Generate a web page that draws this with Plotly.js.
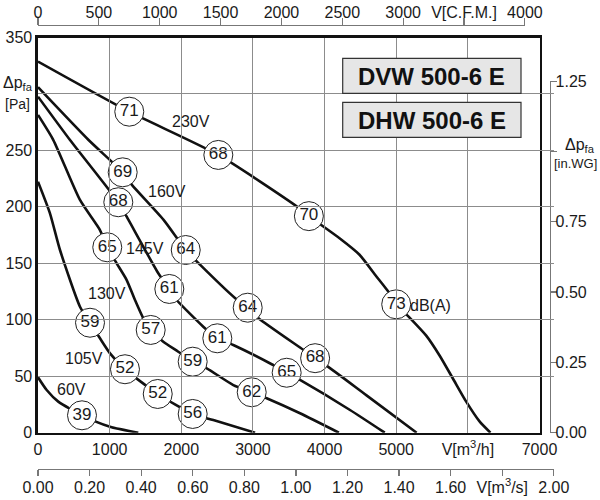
<!DOCTYPE html>
<html><head><meta charset="utf-8">
<script src="https://cdn.plot.ly/plotly-3.0.1.min.js"></script>
<style>html,body{margin:0;padding:0;background:#fff}#chart{width:600px;height:500px}</style>
</head><body><div id="chart"></div>
<script>
// ---------- data ----------
const q230 = [0, 1274, 2517, 3614, 3781, 4209, 4488, 4721, 4884, 5000, 5186, 5419, 5605, 5791, 5977, 6163, 6315];
const p230 = [328.7, 284.3, 246.0, 200.3, 191.8, 172.2, 157.6, 138.6, 125.4, 113.7, 102.0, 86.0, 68.4, 48.0, 27.5, 10.0, 0];

const q160 = [0, 706, 1182, 1311, 1753, 2062, 2265, 2753, 2927, 3078, 3706, 3868, 4023, 4581, 5285];
const p160 = [306.0, 259.2, 230.6, 219.5, 188.5, 161.8, 148.6, 119.1, 110.7, 101.4, 73.3, 66.0, 59.6, 33.3, 0];

const q145 = [0, 447, 1121, 1238, 1679, 1833, 1936, 2307, 2503, 2726, 3262, 3471, 3657, 4355, 4840];
const p145 = [297.6, 259.2, 204.1, 191.3, 141.2, 127.3, 117.5, 93.9, 83.6, 77.7, 60.6, 53.1, 46.7, 20.1, 0];

const q130 = [0, 214, 586, 865, 967, 1098, 1238, 1354, 1470, 1573, 1749, 1958, 2159, 2355, 2726, 2983, 3192, 3657, 4200];
const p130 = [281.4, 259.2, 206.1, 179.5, 164.2, 150.0, 135.2, 117.5, 101.3, 91.0, 80.6, 71.7, 62.9, 57.0, 42.2, 35.8, 30.5, 17.2, 0];

const q105 = [0, 167, 307, 586, 726, 865, 1005, 1214, 1671, 2159, 2447, 3030];
const p105 = [222.3, 194.3, 161.8, 111.6, 97.4, 83.6, 70.3, 56.2, 34.3, 16.6, 11.2, 0];

const q60 = [0, 121, 283, 614, 1005, 1400];
const p60 = [49.1, 37.8, 27.5, 15.4, 5.3, 0];

// sound level markers dB(A)
const dbQ   = [1274, 2517, 3781, 5000, 1182, 2062, 2927, 3868, 1121, 1833, 2503, 3471, 967, 1573, 2159, 2983, 726, 1214, 1671, 2159, 614];
const dbP   = [284.3, 246.0, 191.8, 113.7, 230.6, 161.8, 110.7, 66.0, 204.1, 127.3, 83.6, 53.1, 164.2, 91.0, 62.9, 35.8, 97.4, 56.2, 34.3, 16.6, 15.4];
const dbVal = ['71','68','70','73','69','64','64','68','68','61','61','65','65','57','59','62','59','52','52','56','39'];

// curve labels
const labelText = ['230V','160V','145V','130V','105V','60V'];
const labelQ    = [2131, 1796, 1494, 967, 642, 461];
const labelP    = [275.4, 213.4, 163.3, 123.5, 65.3, 38.4];
const unitText = 'dB(A)';
const unitQ = 5160, unitP = 112.3;

// ticks
const mhVals  = [0,1000,2000,3000,4000,5000,6000,7000];
const mhText  = ['0','1000','2000','3000','4000','5000','V[m<sup>3</sup>/h]','7000'];
const cfmVals = [0,500,1000,1500,2000,2500,3000,3500,4000];
const cfmText = ['0','500','1000','1500','2000','2500','3000','V[C.F.M.]','4000'];
const msVals  = [0,0.2,0.4,0.6,0.8,1.0,1.2,1.4,1.6,1.8,2.0];
const msText  = ['0.00','0.20','0.40','0.60','0.80','1.00','1.20','1.40','1.60','V[m<sup>3</sup>/s]','2.00'];
const paVals  = [0,50,100,150,200,250,300,350];
const paText  = ['0','50','100','150','200','250','','350'];
const wgVals  = [0,0.25,0.5,0.75,1.0,1.25];
const wgText  = ['0.00','0.25','0.50','0.75','','1.25'];
const models  = ['DVW 500-6 E','DHW 500-6 E'];

// ---------- geometry ----------
const FONT = 'Liberation Sans, Arial, sans-serif';
const ML = 38, MR = 45, MT = 25, MB = 31;
const PW = 600 - ML - MR, PH = 500 - MT - MB;
const fx = px => (px - ML) / PW;
const fy = py => (500 - MB - py) / PH;
const X0 = 38, X1 = 539.5, Y0 = 432.7, Y1 = 37.5;
const xs = (X1 - X0) / 7000, ys = (Y0 - Y1) / 350;
const CFM = 1.69901, INWG = 249.089;

const lineStyle = {color:'#111', width:2.6, shape:'spline', smoothing:0.6};
const curves = [[q230,p230],[q160,p160],[q145,p145],[q130,p130],[q105,p105],[q60,p60]];
const traces = curves.map(c => ({x:c[0], y:c[1], type:'scatter', mode:'lines', line:lineStyle, hoverinfo:'skip', showlegend:false}));
traces.push({x:dbQ, y:dbP, text:dbVal, type:'scatter', mode:'markers+text', textposition:'middle center',
  textfont:{family:FONT, size:17, color:'#1a1a1a'},
  marker:{size:29, color:'#fff', line:{color:'#222', width:1}}, hoverinfo:'skip', showlegend:false, cliponaxis:false});
traces.push({x:[], y:[], xaxis:'x2', yaxis:'y', type:'scatter', mode:'markers', showlegend:false});
traces.push({x:[], y:[], xaxis:'x3', yaxis:'y', type:'scatter', mode:'markers', showlegend:false});
traces.push({x:[], y:[], xaxis:'x', yaxis:'y2', type:'scatter', mode:'markers', showlegend:false});

const tickFont = {family:FONT, size:16, color:'#1a1a1a'};
const annotations = [];
const txt = (x, y, text, size, extra) => Object.assign({x:x, y:y, xref:'paper', yref:'paper', text:text, showarrow:false,
  xanchor:'center', yanchor:'middle', font:{family:FONT, size:size, color:'#1a1a1a'}}, extra || {});
labelText.forEach((t,i) => annotations.push({x:labelQ[i], y:labelP[i], xref:'x', yref:'y', text:t, showarrow:false,
  xanchor:'center', yanchor:'middle', font:{family:FONT, size:16, color:'#1a1a1a'}}));
annotations.push({x:unitQ, y:unitP, xref:'x', yref:'y', text:unitText, showarrow:false, xanchor:'left', yanchor:'middle',
  font:{family:FONT, size:16, color:'#1a1a1a'}});
annotations.push(txt(fx(18), fy(84), 'Δp<sub>fa</sub>', 16));
annotations.push(txt(fx(17), fy(104), '[Pa]', 14));
annotations.push(txt(fx(580), fy(145), 'Δp<sub>fa</sub>', 16));
annotations.push(txt(fx(575), fy(163), '[in.WG]', 13));
const boxY = [[58.3,93.3],[102.3,137.3]];
const shapes = [];
models.forEach((m,i) => {
  shapes.push({type:'rect', xref:'paper', yref:'paper', x0:fx(342.7), x1:fx(521), y0:fy(boxY[i][1]), y1:fy(boxY[i][0]),
    fillcolor:'#e6e6e6', line:{color:'#333', width:1.2}});
  annotations.push(txt(fx(431.9), fy((boxY[i][0]+boxY[i][1])/2 + 0.5), '<b>'+m+'</b>', 24, {font:{family:FONT, size:24, color:'#111'}}));
});

const layout = {
  width:600, height:500, margin:{l:ML, r:MR, t:MT, b:MB, pad:0},
  paper_bgcolor:'#fff', plot_bgcolor:'rgba(0,0,0,0)', showlegend:false,
  font:{family:FONT, color:'#1a1a1a'},
  xaxis:{domain:[fx(X0), fx(X1)], range:[0,7000], tickmode:'array', tickvals:mhVals, ticktext:mhText, tickfont:tickFont,
    showgrid:true, gridcolor:'#8c8c8c', gridwidth:1, zeroline:false, showline:true, linecolor:'#111', linewidth:2.6, mirror:true,
    ticks:'', anchor:'y', fixedrange:true},
  yaxis:{domain:[fy(Y0), fy(Y1)], range:[0,350], tickmode:'array', tickvals:paVals, ticktext:paText, tickfont:tickFont,
    showgrid:true, gridcolor:'#8c8c8c', gridwidth:1, zeroline:false, showline:true, linecolor:'#111', linewidth:2.6, mirror:true,
    ticks:'', anchor:'x', fixedrange:true},
  xaxis2:{domain:[fx(X0), fx(X0 + 4000*CFM*xs)], range:[0,4000], side:'top', anchor:'free', position:1,
    tickmode:'array', tickvals:cfmVals, ticktext:cfmText, tickfont:tickFont, ticks:'outside', ticklen:7, tickcolor:'#777', tickwidth:1.2,
    ticklabelstandoff:-6,
    showgrid:false, zeroline:false, showline:true, linecolor:'#777', linewidth:1.4, fixedrange:true},
  xaxis3:{domain:[fx(X0), fx(X0 + 7200*xs)], range:[0,2], side:'bottom', anchor:'free', position:0,
    tickmode:'array', tickvals:msVals, ticktext:msText, tickfont:tickFont, ticks:'outside', ticklen:6, tickcolor:'#777', tickwidth:1.2,
    ticklabelstandoff:-3,
    showgrid:false, zeroline:false, showline:true, linecolor:'#777', linewidth:1.4, fixedrange:true},
  yaxis2:{domain:[fy(Y0), fy(Y0 - 1.25*INWG*ys)], range:[0,1.25], side:'right', anchor:'free', position:fx(550),
    tickmode:'array', tickvals:wgVals, ticktext:wgText, tickfont:tickFont, ticks:'outside', ticklen:6, tickcolor:'#777', tickwidth:1.2,
    ticklabelstandoff:-5,
    showgrid:false, zeroline:false, showline:true, linecolor:'#777', linewidth:1.4, fixedrange:true},
  shapes:shapes, annotations:annotations
};
Plotly.newPlot('chart', traces, layout, {staticPlot:true, displayModeBar:false});
</script></body></html>
